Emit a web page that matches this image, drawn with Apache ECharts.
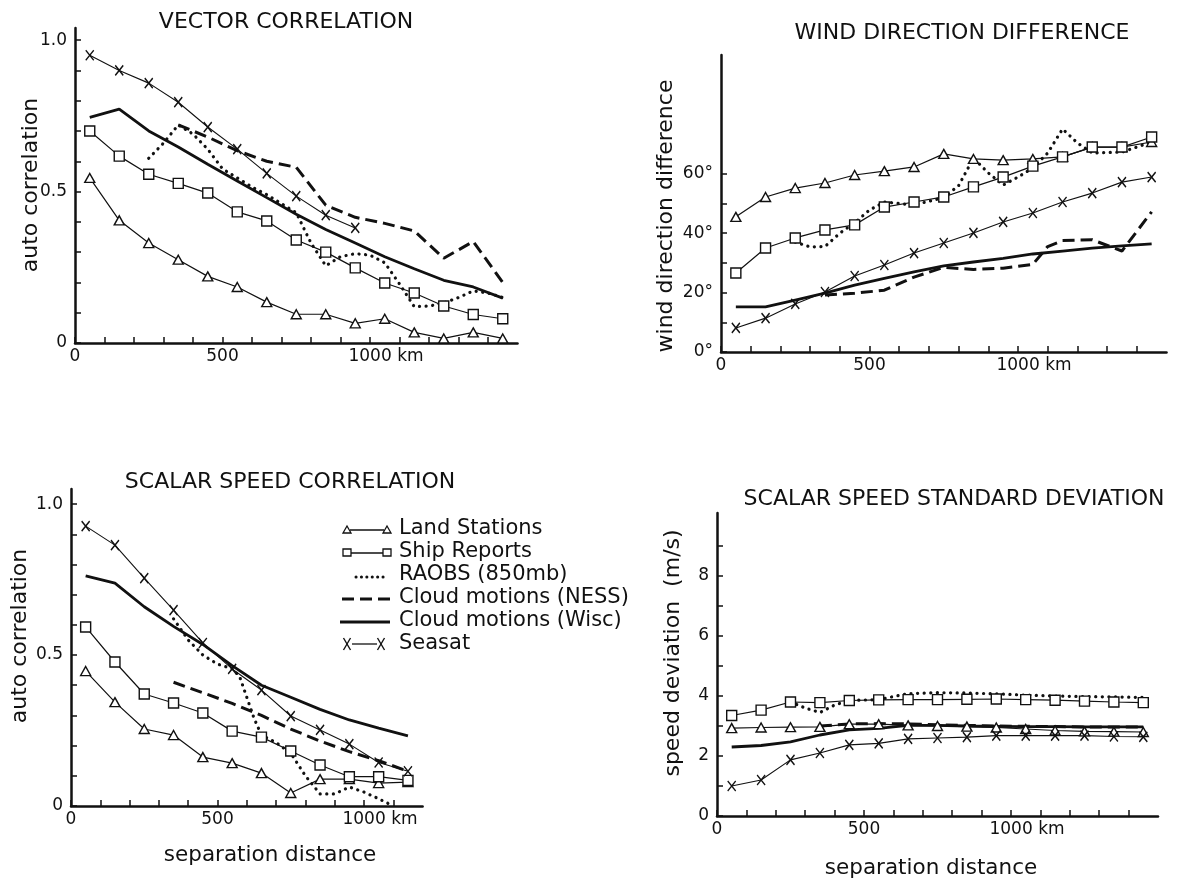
<!DOCTYPE html>
<html><head><meta charset="utf-8">
<script src="https://cdn.jsdelivr.net/npm/echarts@6/dist/echarts.min.js"></script>
<style>html,body{margin:0;padding:0;background:#fff}#c{width:1181px;height:883px}</style>
</head><body><div id="c"></div>
<script>
// ---------- data ----------
const dist = [50,150,250,350,450,550,650,750,850,950,1050,1150,1250,1350,1450];
const distShort = [50,150,250,350,450,550,650,750,850,950,1050,1150];

// Panel 1: vector correlation
const vcLand = [0.545,0.405,0.33,0.275,0.22,0.185,0.135,0.095,0.095,0.065,0.08,0.035,0.015,0.035,0.015];
const vcShip = [0.70,0.617,0.557,0.527,0.495,0.433,0.403,0.34,0.30,0.248,0.198,0.165,0.122,0.094,0.08];
const vcWisc = [0.745,0.772,0.70,0.647,0.59,0.535,0.48,0.425,0.375,0.33,0.285,0.245,0.207,0.185,0.148];
const vcSeasatDist = [50,150,250,350,450,550,650,750,850,950];
const vcSeasat = [0.95,0.90,0.858,0.795,0.713,0.64,0.56,0.485,0.422,0.38];
const vcNessDist = [350,450,550,650,750,850,950,1050,1150,1250,1350,1450];
const vcNess = [0.72,0.68,0.635,0.60,0.58,0.455,0.415,0.395,0.37,0.28,0.335,0.20];
const vcRaobsDist = [250,300,350,400,450,500,550,600,650,700,750,800,850,900,950,1000,1050,1100,1150,1200,1250,1300,1350,1400,1450];
const vcRaobs = [0.61,0.66,0.72,0.69,0.64,0.575,0.545,0.515,0.49,0.46,0.43,0.33,0.255,0.285,0.295,0.29,0.265,0.195,0.12,0.122,0.132,0.15,0.172,0.165,0.15];

// Panel 2: wind direction difference (degrees)
const wdLand = [45.5,52.2,55.2,56.9,59.6,60.9,62.3,66.7,65.0,64.6,65.0,65.7,69.0,69.0,70.7];
const wdShip = [26.6,35.0,38.4,41.1,42.8,48.8,50.5,52.2,55.6,58.9,62.6,65.7,69.0,69.0,72.4];
const wdSeasat = [8.1,11.4,16.2,20.2,25.6,29.3,33.3,36.7,40.1,43.8,46.8,50.5,53.5,57.2,58.9];
const wdWisc = [15.2,15.2,17.5,19.8,22.5,24.8,27.0,29.0,30.3,31.5,33.0,34.0,35.0,35.7,36.4];
const wdNessDist = [350,450,550,650,750,850,950,1050,1100,1150,1250,1350,1450];
const wdNess = [19.2,19.8,20.8,25.2,28.5,27.8,28.2,29.5,35.5,37.5,37.8,34.0,47.2];
const wdRaobsDist = [250,300,350,400,450,500,550,650,750,800,850,900,950,1000,1050,1100,1150,1200,1250,1350,1450];
const wdRaobs = [37.0,35.4,35.5,40.0,43.5,47.8,50.5,49.5,52.0,56.0,65.3,60.3,56.2,58.9,62.0,67.0,75.1,70.4,67.0,67.3,70.7];

// Panel 3: scalar speed correlation
const scLand = [0.447,0.344,0.255,0.235,0.162,0.142,0.109,0.043,0.089,0.089,0.076,0.079];
const scShip = [0.593,0.477,0.371,0.341,0.308,0.248,0.228,0.182,0.136,0.097,0.097,0.085];
const scSeasat = [0.927,0.864,0.755,0.649,0.54,0.454,0.384,0.298,0.252,0.205,0.144,0.115];
const scWisc = [0.762,0.738,0.66,0.595,0.535,0.465,0.40,0.36,0.32,0.285,0.258,0.232];
const scNessDist = [350,450,550,650,750,850,950,1050,1150];
const scNess = [0.41,0.375,0.34,0.30,0.255,0.215,0.18,0.15,0.115];
const scRaobsDist = [350,400,450,500,550,575,600,625,650,700,750,800,850,900,950,1000,1050,1100];
const scRaobs = [0.62,0.55,0.50,0.47,0.455,0.43,0.36,0.29,0.235,0.21,0.175,0.10,0.04,0.04,0.063,0.046,0.024,0.0];

// Panel 4: scalar speed standard deviation (m/s)
const sdShip = [3.35,3.53,3.8,3.78,3.85,3.87,3.88,3.88,3.89,3.9,3.88,3.86,3.83,3.8,3.78];
const sdLand = [2.93,2.95,2.96,2.97,3.06,3.06,3.02,3.0,2.98,2.95,2.9,2.85,2.82,2.81,2.8];
const sdWisc = [2.3,2.35,2.47,2.7,2.87,2.92,3.02,3.02,3.0,2.99,2.98,2.98,2.97,2.97,2.97];
const sdSeasat = [1.0,1.2,1.87,2.1,2.37,2.42,2.57,2.6,2.63,2.68,2.68,2.68,2.68,2.65,2.64];
const sdNessDist = [350,450,550,650,750,850,950,1050,1150,1250,1350,1450];
const sdNess = [3.0,3.07,3.08,3.07,3.04,3.02,3.0,2.99,2.98,2.97,2.97,2.97];
const sdRaobsDist = [250,300,350,400,450,550,650,750,850,950,1050,1150,1250,1350,1450];
const sdRaobs = [3.8,3.6,3.45,3.7,3.85,3.88,4.08,4.11,4.1,4.07,4.03,4.0,3.98,3.97,3.95];

// ticks / labels / text
const xTicksLong = [0,100,200,300,400,500,600,700,800,900,1000,1100,1200,1300,1400];
const xTicksShort = [0,100,200,300,400,500,600,700,800,900,1000,1100];
const xLabelVals = [0,500,1000];
const corrTicks = [0,0.1,0.2,0.3,0.4,0.5,0.6,0.7,0.8,0.9,1.0];
const corrLabels = [0,0.5,1.0];
const degTicks = [0,10,20,30,40,50,60];
const degLabels = [0,20,40,60];
const sdTicks = [0,1,2,3,4,5,6,7,8,9];
const sdLabels = [0,2,4,6,8];
const titles = ['VECTOR CORRELATION','WIND DIRECTION DIFFERENCE','SCALAR SPEED CORRELATION','SCALAR SPEED STANDARD DEVIATION'];
const yNames = ['auto correlation','wind direction difference','auto correlation','speed deviation  (m/s)'];
const xName = 'separation distance';
const legendNames = ['Land Stations','Ship Reports','RAOBS (850mb)','Cloud motions (NESS)','Cloud motions (Wisc)','Seasat'];

// ---------- styling ----------
const FONT = '"DejaVu Sans", sans-serif';
const INK = '#111';
const grids = [
  {left:75, top:28, width:442.5, height:315},
  {left:721, top:55, width:445.5, height:297},
  {left:71, top:489, width:351.6, height:317},
  {left:717, top:513, width:441, height:303}
];
function mkX(gi, max, ticks){
  return {type:'value', gridIndex:gi, min:0, max:max, interval:100,
    axisLine:{show:true, onZero:false, lineStyle:{color:INK, width:2.5}},
    axisTick:{show:true, inside:true, length:6, lineStyle:{color:INK, width:1.5}, customValues:ticks},
    axisLabel:{show:true, customValues:xLabelVals, color:INK, fontSize:17, fontFamily:FONT, margin:5,
      formatter: v => v === 1000 ? '{k|1000 km}' : String(v),
      rich:{k:{padding:[0,0,0,32], fontSize:17, fontFamily:FONT, color:INK}}},
    splitLine:{show:false}};
}
function mkY(gi, max, interval, ticks, labels, fmt){
  return {type:'value', gridIndex:gi, min:0, max:max, interval:interval,
    axisLine:{show:true, onZero:false, lineStyle:{color:INK, width:2.5}},
    axisTick:{show:true, inside:true, length:6, lineStyle:{color:INK, width:1.5}, customValues:ticks},
    axisLabel:{show:true, customValues:labels, color:INK, fontSize:17, fontFamily:FONT, margin:8, formatter:fmt},
    splitLine:{show:false}};
}
const XPATH = 'path://M0,0L10,12M10,0L0,12';
function ser(gi, xs, ys, kind, name){
  const s = {type:'line', name:name, xAxisIndex:gi, yAxisIndex:gi, animation:false, silent:true,
    showAllSymbol:true, clip:false, data: xs.map((x,i)=>[x, ys[i]])};
  if (kind === 'land') Object.assign(s, {symbol:'triangle', symbolSize:[10,9], z:5,
    lineStyle:{color:INK, width:1.2}, itemStyle:{color:'#fff', borderColor:INK, borderWidth:1.4}});
  if (kind === 'ship') Object.assign(s, {symbol:'rect', symbolSize:10, z:5,
    lineStyle:{color:INK, width:1.2}, itemStyle:{color:'#fff', borderColor:INK, borderWidth:1.4}});
  if (kind === 'seasat') Object.assign(s, {symbol:XPATH, symbolSize:[8,10], z:5,
    lineStyle:{color:INK, width:1.1}, itemStyle:{color:INK, borderColor:INK, borderWidth:1.5}});
  if (kind === 'wisc') Object.assign(s, {symbol:'none', z:3, lineStyle:{color:INK, width:2.8}});
  if (kind === 'ness') Object.assign(s, {symbol:'none', z:3, lineStyle:{color:INK, width:3, type:[12,6]}});
  if (kind === 'raobs') Object.assign(s, {symbol:'none', z:4, lineStyle:{color:INK, width:3.2, type:[0.1,6.5], cap:'round'}});
  return s;
}
const N = legendNames;
const series = [
  ser(0, vcRaobsDist, vcRaobs, 'raobs', N[2]), ser(0, vcNessDist, vcNess, 'ness', N[3]), ser(0, dist, vcWisc, 'wisc', N[4]),
  ser(0, dist, vcLand, 'land', N[0]), ser(0, dist, vcShip, 'ship', N[1]), ser(0, vcSeasatDist, vcSeasat, 'seasat', N[5]),
  ser(1, wdRaobsDist, wdRaobs, 'raobs', N[2]), ser(1, wdNessDist, wdNess, 'ness', N[3]), ser(1, dist, wdWisc, 'wisc', N[4]),
  ser(1, dist, wdLand, 'land', N[0]), ser(1, dist, wdShip, 'ship', N[1]), ser(1, dist, wdSeasat, 'seasat', N[5]),
  ser(2, scRaobsDist, scRaobs, 'raobs', N[2]), ser(2, scNessDist, scNess, 'ness', N[3]), ser(2, distShort, scWisc, 'wisc', N[4]),
  ser(2, distShort, scLand, 'land', N[0]), ser(2, distShort, scShip, 'ship', N[1]), ser(2, distShort, scSeasat, 'seasat', N[5]),
  ser(3, sdRaobsDist, sdRaobs, 'raobs', N[2]), ser(3, sdNessDist, sdNess, 'ness', N[3]), ser(3, dist, sdWisc, 'wisc', N[4]),
  ser(3, dist, sdLand, 'land', N[0]), ser(3, dist, sdShip, 'ship', N[1]), ser(3, dist, sdSeasat, 'seasat', N[5])
];

// ---------- text & legend graphics ----------
const g = [];
function txt(text, x, y, size, opts){
  g.push(Object.assign({type:'text', x:x, y:y, silent:true,
    style:{text:text, fill:INK, font: size + 'px ' + FONT, align:'center', verticalAlign:'middle'}}, opts||{}));
}
const titlePos = [[286,22],[962,33],[290,482],[954,499]];
titles.forEach((t,i)=>txt(t, titlePos[i][0], titlePos[i][1], 22));
const yNamePos = [[31,185],[666,216],[20,636],[673,653]];
yNames.forEach((t,i)=>txt(t, yNamePos[i][0], yNamePos[i][1], 22, {rotation:Math.PI/2}));
txt(xName, 270, 855, 21.5);
txt(xName, 931, 868, 21.5);

const legY = [529,552,575,598,621,644];
legendNames.forEach((name,i)=>{
  const y = legY[i];
  g.push({type:'text', x:399, y:y, silent:true, style:{text:name, fill:INK, font:'21px ' + FONT, align:'left', verticalAlign:'middle'}});
  if (i === 0 || i === 1) {
    g.push({type:'line', silent:true, shape:{x1:350,y1:y+1,x2:384,y2:y+1}, style:{stroke:INK, lineWidth:1.3}});
    [347,387].forEach(cx=>{
      if (i === 0) g.push({type:'polygon', silent:true, shape:{points:[[cx-4,y+4],[cx+4,y+4],[cx,y-3]]}, style:{fill:'#fff', stroke:INK, lineWidth:1.3}});
      else g.push({type:'rect', silent:true, shape:{x:cx-4,y:y-3,width:8,height:7}, style:{fill:'#fff', stroke:INK, lineWidth:1.3}});
    });
  } else if (i === 2) {
    g.push({type:'line', silent:true, shape:{x1:356,y1:y+2,x2:388,y2:y+2}, style:{stroke:INK, lineWidth:3, lineDash:[0.1,5.3], lineCap:'round'}});
  } else if (i === 3) {
    g.push({type:'line', silent:true, shape:{x1:342,y1:y+1,x2:390,y2:y+1}, style:{stroke:INK, lineWidth:3, lineDash:[12,6]}});
  } else if (i === 4) {
    g.push({type:'line', silent:true, shape:{x1:340,y1:y+1,x2:390,y2:y+1}, style:{stroke:INK, lineWidth:3}});
  } else {
    g.push({type:'line', silent:true, shape:{x1:352,y1:y,x2:377,y2:y}, style:{stroke:INK, lineWidth:1.3}});
    [347,381].forEach(cx=>{
      g.push({type:'polyline', silent:true, shape:{points:[[cx-3.5,y-6],[cx+3.5,y+6]]}, style:{stroke:INK, lineWidth:1.4, fill:null}});
      g.push({type:'polyline', silent:true, shape:{points:[[cx+3.5,y-6],[cx-3.5,y+6]]}, style:{stroke:INK, lineWidth:1.4, fill:null}});
    });
  }
});

const option = {
  backgroundColor:'#fff',
  animation:false,
  grid: grids.map(r=>Object.assign({containLabel:false}, r)),
  xAxis: [mkX(0,1500,xTicksLong), mkX(1,1500,xTicksLong), mkX(2,1200,xTicksShort), mkX(3,1500,xTicksLong)],
  yAxis: [
    mkY(0, 1.04, 0.1, corrTicks, corrLabels, v => v === 0 ? '0' : v.toFixed(1)),
    mkY(1, 100, 10, degTicks, degLabels, v => v + '°'),
    mkY(2, 1.05, 0.1, corrTicks, corrLabels, v => v === 0 ? '0' : v.toFixed(1)),
    mkY(3, 10.1, 1, sdTicks, sdLabels, v => String(v))
  ],
  series: series,
  graphic: g
};
const chart = echarts.init(document.getElementById('c'), null, {renderer:'canvas'});
chart.setOption(option);
</script></body></html>
